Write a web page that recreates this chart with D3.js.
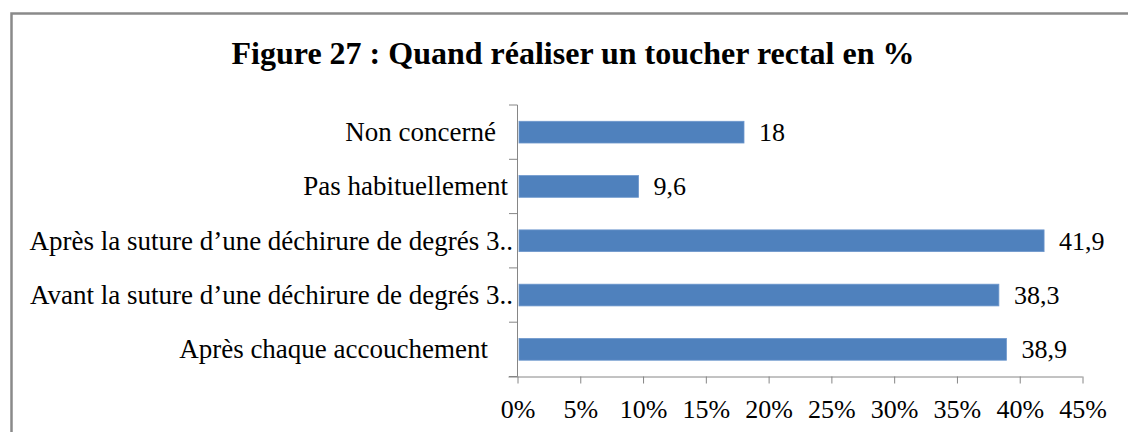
<!DOCTYPE html>
<html>
<head>
<meta charset="utf-8">
<script src="https://cdn.jsdelivr.net/npm/d3@7"></script>
<style>
  body { margin: 0; background: #fff; }
  text { font-family: "Liberation Serif", "Times New Roman", serif; fill: #000; }
</style>
</head>
<body>
<div id="chart"></div>
<script>
// categories from top to bottom, as in the picture
var categories = [
  'Non concerné',
  'Pas habituellement',
  'Après la suture d\u2019une déchirure de degrés 3..',
  'Avant la suture d\u2019une déchirure de degrés 3..',
  'Après chaque accouchement'
]
var values = [18, 9.6, 41.9, 38.3, 38.9]
var xTicks = [0, 5, 10, 15, 20, 25, 30, 35, 40, 45]
var title = 'Figure 27 : Quand réaliser un toucher rectal en %'

var W = 1128, H = 432
var m = { left: 518, right: 1083, top: 105, bottom: 376.5 }

var svg = d3.select('#chart')
    .append('svg')
    .attr('width', W)
    .attr('height', H)

// outer frame (cut off on the right and at the bottom)
svg.append('path')
    .attr('d', 'M11.5,' + (H + 5) + ' L11.5,13.5 L' + (W + 5) + ',13.5')
    .attr('fill', 'none')
    .attr('stroke', '#8a8a8a')
    .attr('stroke-width', 2.5)

svg.append('text')
    .attr('x', 573)
    .attr('y', 64)
    .attr('text-anchor', 'middle')
    .style('font-size', '32px')
    .style('font-weight', 'bold')
    .text(title)

var x = d3.scaleLinear().domain([0, 45]).range([m.left, m.right])
var y = d3.scaleBand().domain(categories).range([m.top, m.bottom]).paddingInner(0.6).paddingOuter(0.3)

// bars
svg.selectAll('rect.bar')
    .data(values)
    .enter()
    .append('rect')
    .attr('class', 'bar')
    .attr('x', x(0) + 1)
    .attr('y', (d, i) => y(categories[i]))
    .attr('width', d => x(d) - x(0) - 1)
    .attr('height', y.bandwidth())
    .attr('fill', '#4f81bd')
    .attr('stroke', '#6d97cc')
    .attr('stroke-width', 0.8)

// value labels
svg.selectAll('text.val')
    .data(values)
    .enter()
    .append('text')
    .attr('class', 'val')
    .attr('x', d => x(d) + 15)
    .attr('y', (d, i) => y(categories[i]) + y.bandwidth() / 2 + 9)
    .style('font-size', '26px')
    .text(d => String(d).replace('.', ','))

// y axis: line with ticks between categories, labels drawn separately
var yAxisG = svg.append('g').attr('stroke', '#868686').attr('stroke-width', 1)
yAxisG.append('line')
    .attr('x1', m.left - 0.5).attr('x2', m.left - 0.5)
    .attr('y1', m.top).attr('y2', m.bottom)
var step = (m.bottom - m.top) / categories.length
d3.range(categories.length + 1).forEach(function (i) {
  yAxisG.append('line')
      .attr('x1', m.left - 9).attr('x2', m.left - 0.5)
      .attr('y1', m.top + i * step).attr('y2', m.top + i * step)
})

var labelRight = [496, 508, 513, 513, 488]
svg.selectAll('text.cat')
    .data(categories)
    .enter()
    .append('text')
    .attr('class', 'cat')
    .attr('x', (d, i) => labelRight[i])
    .attr('y', d => y(d) + y.bandwidth() / 2 + 9)
    .attr('text-anchor', 'end')
    .style('font-size', '27px')
    .text(d => d)

// x axis
var xAxis = d3.axisBottom(x)
    .tickValues(xTicks)
    .tickSize(7)
    .tickFormat(d => d + '%')

var xg = svg.append('g')
    .attr('transform', 'translate(-0.5,' + m.bottom + ')')
    .call(xAxis)
xg.select('.domain').attr('stroke', '#868686').attr('d', 'M' + (m.left - 9) + ',0.5H' + m.right)
xg.selectAll('.tick line').attr('stroke', '#868686')
xg.selectAll('.tick text')
    .attr('y', 41)
    .attr('dy', 0)
    .style('font-size', '26px')
    .style('font-family', '"Liberation Serif", "Times New Roman", serif')
    .attr('fill', '#000')
</script>
</body>
</html>
